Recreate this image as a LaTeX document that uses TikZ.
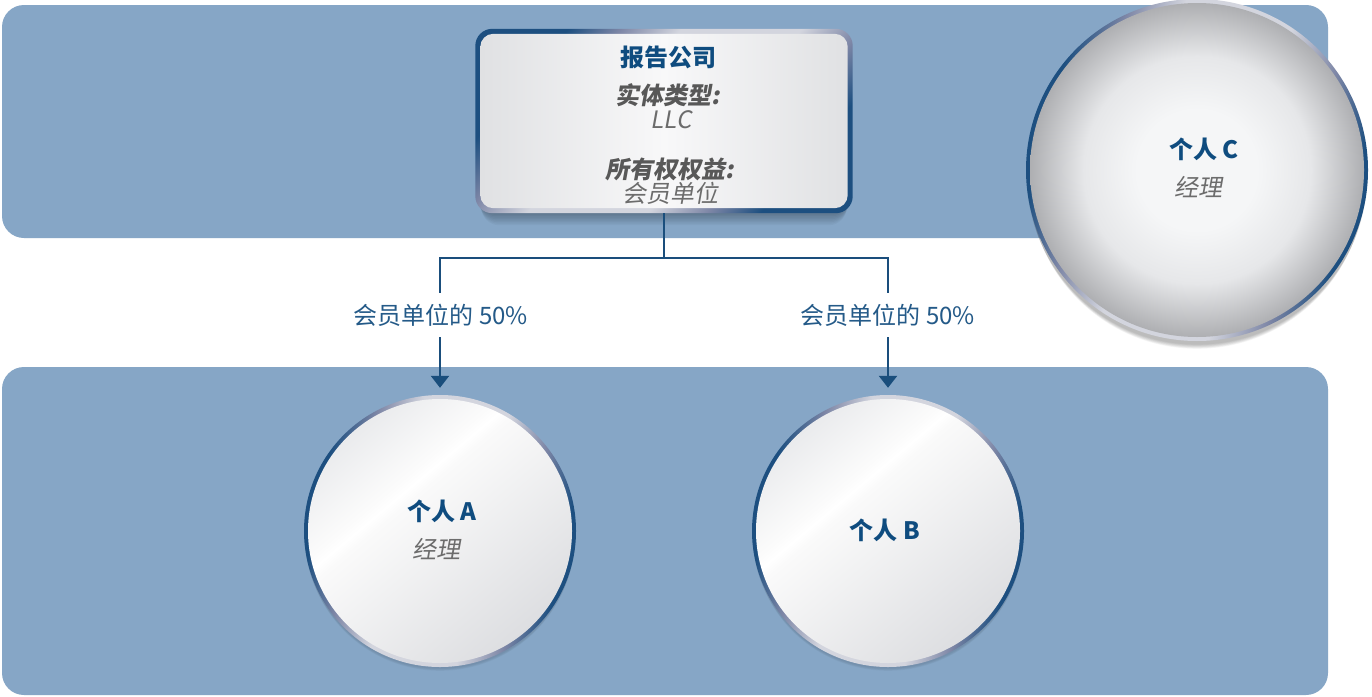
\documentclass[tikz,border=0pt]{standalone}
\usepackage{fontspec}
\setmainfont{Noto Sans CJK SC}
\newfontfamily\slfont{Noto Sans CJK SC}[FakeSlant=0.18]
\usetikzlibrary{arrows.meta}
\definecolor{band}{HTML}{86A6C6}
\definecolor{navy}{HTML}{0F4C7F}
\definecolor{conn}{HTML}{1A4E7C}
\definecolor{lblblue}{HTML}{245A88}
\definecolor{txtgray}{HTML}{585858}
\definecolor{ltgray}{HTML}{6C6C6C}
\definecolor{ringblue}{HTML}{1D4F80}
\definecolor{ringmid}{HTML}{7D86A6}
\definecolor{ringlight}{HTML}{D3D5DE}
\definecolor{boxside}{HTML}{E0E1E3}
\definecolor{boxmid}{HTML}{F8F8F9}
\definecolor{sphin}{HTML}{F5F6F7}
\definecolor{sphmid}{HTML}{E6E7E9}
\definecolor{sphout}{HTML}{AEAFB2}
\definecolor{discA}{HTML}{EAEBED}
\definecolor{discB}{HTML}{DDDEE1}
\pgfdeclarehorizontalshading{ring}{100bp}{color(0bp)=(ringblue); color(27bp)=(ringblue); color(34bp)=(ringmid); color(42bp)=(ringlight); color(58bp)=(ringlight); color(66bp)=(ringmid); color(73bp)=(ringblue); color(100bp)=(ringblue)}
\pgfdeclarehorizontalshading{disc}{100bp}{color(0bp)=(discA); color(25bp)=(discA); color(38bp)=(white!97!gray); color(40bp)=(white); color(42bp)=(white!96!gray); color(75bp)=(discB); color(100bp)=(discB)}
\pgfdeclareradialshading{sphere}{\pgfpoint{0bp}{0bp}}{color(0bp)=(sphin); color(9bp)=(sphin); color(17bp)=(sphmid); color(25bp)=(sphout); color(50bp)=(sphout)}
\begin{document}
\begin{tikzpicture}[x=1pt,y=-1pt,
  conn/.style={draw=conn, line width=2.4pt},
  arr/.style={conn, -{Triangle[width=18pt,length=12pt]}},
  ttl/.style={font=\bfseries\fontsize{24}{28}\selectfont, text=navy, inner sep=0pt},
  key/.style={font=\slfont\bfseries\fontsize{24}{28}\selectfont, text=txtgray, inner sep=0pt},
  val/.style={font=\slfont\fontsize{24}{28}\selectfont, text=ltgray, inner sep=0pt},
  lbl/.style={font=\fontsize{24}{28}\selectfont, text=lblblue, inner sep=0pt, minimum height=44pt},
  person/.style={circle, inner sep=0pt}
]
\fill[white] (0,0) rectangle (1372,696);
\useasboundingbox (0,0) rectangle (1372,696);
% bands
\fill[band, rounded corners=22pt] (2,5) rectangle (1328,238);
\fill[band, rounded corners=22pt] (2,367) rectangle (1328,695);

% company box
\node[minimum width=377pt, minimum height=184pt, inner sep=0pt] (box) at (664,121) {};
\foreach \k in {1,...,8}
  \fill[black, opacity=0.035, rounded corners=18pt]
    ([shift={({2pt+0.5*\k pt},{-2pt-\k pt})}]box.north west) rectangle ([shift={({-2pt-0.5*\k pt},{-1.5*\k pt})}]box.south east);
\shade[shading=ring, shading angle=-40, rounded corners=17pt] (box.north west) rectangle (box.south east);
\shade[left color=boxside, right color=boxside, middle color=boxmid, rounded corners=13pt]
  ([shift={(5pt,-5pt)}]box.north west) rectangle ([shift={(-5pt,5pt)}]box.south east);
\node[ttl] (t0) at (668,57) {报告公司};
\node[key] (t1) at (668,95) {实体类型:};
\node[val] (t2) at (671,120) {LLC};
\node[key] (t3) at (670,169) {所有权权益:};
\node[val] (t4) at (670,193) {会员单位};

% person C
\node[person, minimum size=342pt] (C) at (1197,170) {};
\foreach \k in {1,...,8}
  \fill[black, opacity=0.035] ([yshift={-3pt-\k pt}]C.center) circle[radius={171pt-0.4*\k pt}];
\shade[shading=ring, shading angle=-15] (C.center) circle[radius=171pt];
\shade[shading=sphere] (C.center) circle[radius=167pt];
\node[ttl] (c1) at (1204,149) {个人 C};
\node[val] (c2) at (1198,187) {经理};

% person A
\node[person, minimum size=272pt] (A) at (440,531) {};
\foreach \k in {1,...,4}
  \fill[black, opacity=0.03] ([yshift={-1pt-\k pt}]A.center) circle[radius={136pt-0.3*\k pt}];
\shade[shading=ring, shading angle=-12] (A.center) circle[radius=136pt];
\shade[shading=disc, shading angle=-50] (A.center) circle[radius=132pt];
\node[ttl] (a1) at (442,511) {个人 A};
\node[val] (a2) at (436,549) {经理};

% person B
\node[person, minimum size=272pt] (B) at (888,531) {};
\foreach \k in {1,...,4}
  \fill[black, opacity=0.03] ([yshift={-1pt-\k pt}]B.center) circle[radius={136pt-0.3*\k pt}];
\shade[shading=ring, shading angle=-12] (B.center) circle[radius=136pt];
\shade[shading=disc, shading angle=-50] (B.center) circle[radius=132pt];
\node[ttl] (b1) at (885,530) {个人 B};

% connectors
\coordinate (j) at (box.south |- 0,258);
\node[lbl] (lA) at (441,315) {会员单位的 50\%};
\node[lbl] (lB) at (888,315) {会员单位的 50\%};
\draw[conn] (box.south) -- (j);
\draw[conn] (lA.north -| A.north) |- (j) -| (lB.north -| B.north);
\draw[arr] (lA.south -| A.north) -- ([yshift=7pt]A.north);
\draw[arr] (lB.south -| B.north) -- ([yshift=7pt]B.north);
\end{tikzpicture}
\end{document}
